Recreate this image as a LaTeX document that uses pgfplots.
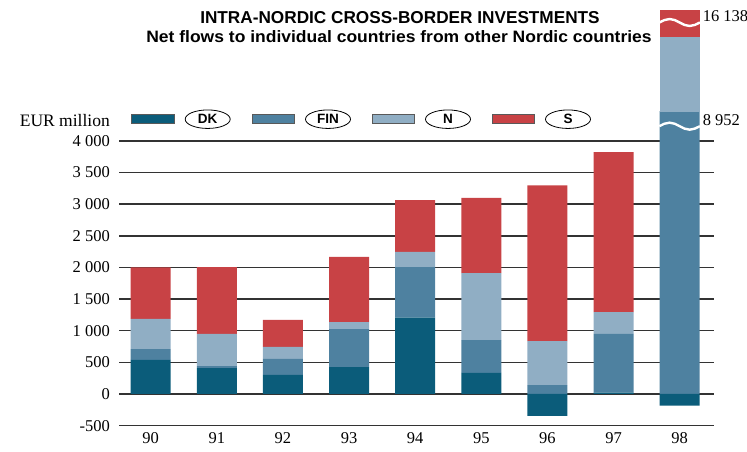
\documentclass[border=0pt]{standalone}
\usepackage{pgfplots}
\usepackage{pgfplotstable}
\pgfplotsset{compat=1.18}
\usepackage{fontspec}
\setmainfont{Liberation Serif}
\newfontfamily\titlefont{Liberation Sans}
\newfontfamily\subfont[FakeStretch=1.06]{Liberation Sans}
\usetikzlibrary{shapes.geometric}

\definecolor{cDK}{RGB}{11,92,122}
\definecolor{cFIN}{RGB}{78,129,160}
\definecolor{cN}{RGB}{144,174,196}
\definecolor{cS}{RGB}{200,66,69}

% DK split into positive (DKp) and negative (DKn) parts
\pgfplotstableread{
x DKp DKn FIN N S
0 540 0 170 475 815
1 410 0 30 510 1055
2 300 0 255 190 425
3 425 0 600 110 1030
4 1205 0 800 240 820
5 335 0 515 1060 1190
6 0 -345 140 695 2460
7 20 0 930 345 2525
8 0 -185 8952 5305 1881
}\data

\pgfplotstableread{
x DKp DKn FIN N S
8 0 -185 8952 5305 1881
}\dataB

\pgfplotsset{
  myaxis/.style={
    scale only axis, anchor=south west,
    width=595pt, xmin=-0.48, xmax=8.52, bar width=40pt,
  },
}

\begin{document}
\begin{tikzpicture}
\useasboundingbox (0,0) rectangle (747pt,452pt);

% titles
\node[anchor=base] at (400pt,428pt) {\titlefont\bfseries\fontsize{17.2}{20}\selectfont INTRA-NORDIC CROSS-BORDER INVESTMENTS};
\node[anchor=base] at (399pt,409pt) {\subfont\bfseries\fontsize{16.5}{19}\selectfont Net flows to individual countries from other Nordic countries};

% unit label
\node[anchor=base east, inner sep=0pt] at (110pt,325.3pt) {\fontsize{17.5}{20}\selectfont EUR million};

% legend
\foreach \c/\lab/\xs in {cDK/DK/131.7, cFIN/FIN/252, cN/N/372, cS/S/492}{
  \filldraw[fill=\c, draw=black!65, line width=0.6pt] (\xs pt,328.7pt) rectangle ++(42.5pt,8.5pt);
  \node[ellipse, draw=black, line width=0.8pt, minimum width=45pt, minimum height=18.5pt, inner sep=0pt]
    at (\xs pt+76pt,332.8pt) {\titlefont\bfseries\fontsize{13.5}{15}\selectfont \lab};
}

% main (lower) axis
\begin{axis}[
  myaxis, at={(119pt,26.4pt)}, height=313.6pt,
  ymin=-500, ymax=4456,
  ybar stacked,
  axis line style={draw=none}, major tick length=0pt,
  xtick={0,1,2,3,4,5,6,7,8},
  xticklabels={90,91,92,93,94,95,96,97,98},
  ytick={-500,0,500,1000,1500,2000,2500,3000,3500,4000},
  ymajorgrids, grid style={black!80, line width=1.5pt},
  tick label style={font=\fontsize{16.5}{18}\selectfont},
  yticklabel style={inner sep=0pt, xshift=-9pt},
  xticklabel style={inner sep=0pt, yshift=-7pt},
  /pgf/number format/assume math mode=true,
  /pgf/number format/1000 sep={\hspace{0.25em}},
  scaled y ticks=false,
]
\addplot[fill=cDK, draw=none] table[x=x,y=DKp]{\data};
\addplot[fill=cFIN, draw=none] table[x=x,y=FIN]{\data};
\addplot[fill=cN, draw=none] table[x=x,y=N]{\data};
\addplot[fill=cS, draw=none] table[x=x,y=S]{\data};
\coordinate (wA) at (axis cs:8,4232);
\coordinate (labA) at (axis cs:8,4456);
\end{axis}

% negative DK values (not stacked)
\begin{axis}[
  myaxis, at={(119pt,26.4pt)}, height=313.6pt,
  ymin=-500, ymax=4456, ybar, hide axis,
]
\addplot[fill=cDK, draw=none] table[x=x,y=DKn]{\data};
\end{axis}

% upper part of the broken 1998 bar
\begin{axis}[
  myaxis, at={(119pt,340pt)}, height=102pt,
  ymin=8952, ymax=16138,
  ybar stacked, hide axis,
]
\addplot[fill=cDK, draw=none] table[x=x,y=DKp]{\dataB};
\addplot[fill=cFIN, draw=none] table[x=x,y=FIN]{\dataB};
\addplot[fill=cN, draw=none] table[x=x,y=N]{\dataB};
\addplot[fill=cS, draw=none] table[x=x,y=S]{\dataB};
\coordinate (wB) at (axis cs:8,15257);
\coordinate (labB) at (axis cs:8,16138);
\end{axis}

% axis-break waves on the 1998 bar
\draw[white, line width=2.4pt, shift={(wA)}] (-20.3pt,0pt) sin (-10pt,3.5pt) cos (0pt,0pt) sin (10pt,-3.5pt) cos (20.3pt,0pt);
\draw[white, line width=2.4pt, shift={(wB)}] (-20.3pt,0pt) sin (-10pt,3.5pt) cos (0pt,0pt) sin (10pt,-3.5pt) cos (20.3pt,0pt);

\node[anchor=west, inner sep=0pt, font=\fontsize{16.5}{18}\selectfont] at ([xshift=23pt,yshift=-8pt]labA) {8\hspace{0.25em}952};
\node[anchor=west, inner sep=0pt, font=\fontsize{16.5}{18}\selectfont] at ([xshift=23pt,yshift=-6pt]labB) {16\hspace{0.25em}138};
\end{tikzpicture}
\end{document}
